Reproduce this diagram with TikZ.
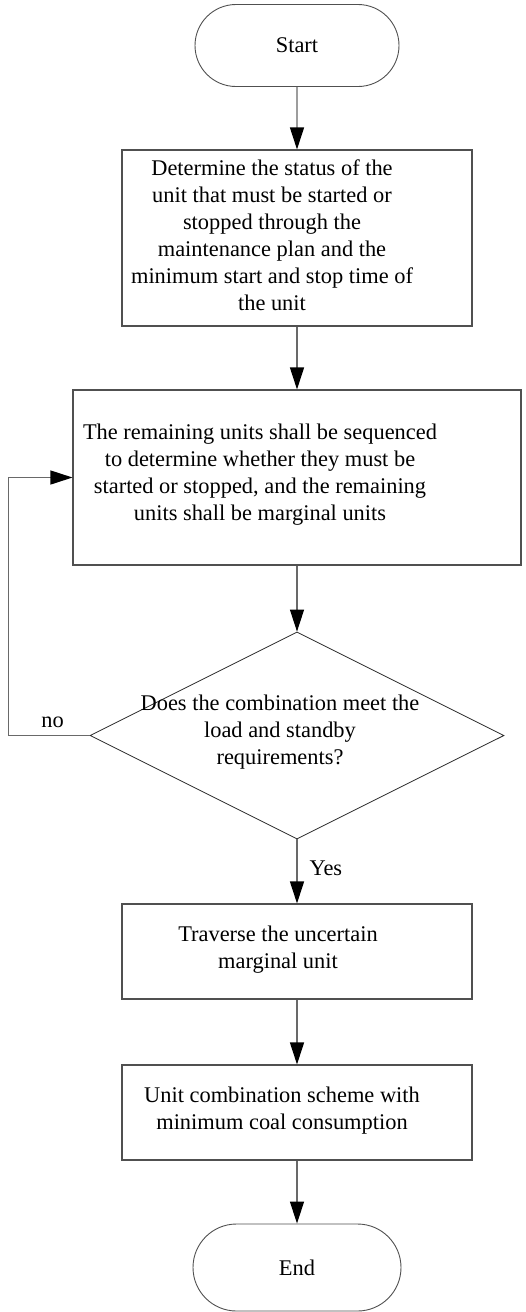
\documentclass[tikz,border=0pt]{standalone}
\usepackage{fontspec}
\setmainfont{Liberation Serif}
\usetikzlibrary{shapes.geometric}
\usetikzlibrary{shapes.misc}
\usetikzlibrary{arrows.meta}

\definecolor{edgegray}{RGB}{105,105,105}
\definecolor{framegray}{RGB}{80,80,80}

\tikzset{
 procbox/.style={draw=framegray, line width=1.1pt, rectangle, minimum width=350pt, inner sep=0pt},
 termbox/.style={draw=framegray, line width=0.9pt, rounded rectangle, minimum width=204pt, minimum height=82pt, inner sep=0pt, font=\fontsize{22.4}{27}\selectfont},
 decbox/.style={draw=black!85, line width=0.8pt, diamond, minimum width=414pt, minimum height=207pt, inner sep=0pt},
 txt/.style={align=center, inner sep=0pt, font=\fontsize{22.4}{27}\selectfont},
 flow/.style={draw=edgegray, line width=1.2pt, ->, >={Triangle[length=22pt,width=14pt,black]}},
}

\begin{document}
\begin{tikzpicture} [x=1pt, y=-1pt]
\useasboundingbox (0,0) rectangle (526,1312);
% terminals
\node[termbox] (start) at (297,45.5) {Start};
\node[termbox, minimum width=208pt, minimum height=87pt] (finish) at (297,1267.5) {End};
% process steps
\node[procbox, minimum height=176pt] (status) at (297,238) {};
\node[txt] (statustxt) at ([xshift=-25pt, yshift=3pt]status.center) {Determine the status of the\\unit that must be started or\\stopped through the\\maintenance plan and the\\minimum start and stop time of\\the unit};
\node[procbox, minimum width=448pt, minimum height=175pt] (order) at (297,477.5) {};
\node[txt] (ordertxt) at ([xshift=-37pt, yshift=3pt]order.center) {The remaining units shall be sequenced\\to determine whether they must be\\started or stopped, and the remaining\\units shall be marginal units};
\node[decbox] (check) at (297,735.5) {};
\node[txt] (checktxt) at ([xshift=-17pt, yshift=3pt]check.center) {Does the combination meet the\\load and standby\\requirements?};
\node[procbox, minimum height=95pt] (traverse) at (297,951.5) {};
\node[txt] (traversetxt) at ([xshift=-19pt, yshift=2pt]traverse.center) {Traverse the uncertain\\marginal unit};
\node[procbox, minimum height=95pt] (scheme) at (297,1112.5) {};
\node[txt] (schemetxt) at ([xshift=-15pt, yshift=2pt]scheme.center) {Unit combination scheme with\\minimum coal consumption};
% connectors
\draw[flow] (start) -- (status);
\draw[flow] (status) -- (order);
\draw[flow] (order) -- (check);
\draw[flow] (check) -- (traverse) node[txt, pos=0.45, right=12pt] (yeslbl) {Yes};
\draw[flow] (traverse) -- (scheme);
\draw[flow] (scheme) -- (finish);
\draw[flow] (check.west) -- ++(-81,0) coordinate (loopturn) |- (order.west);
\node[txt, anchor=base] (nolbl) at (52.5,727) {no};
\end{tikzpicture}
\end{document}
